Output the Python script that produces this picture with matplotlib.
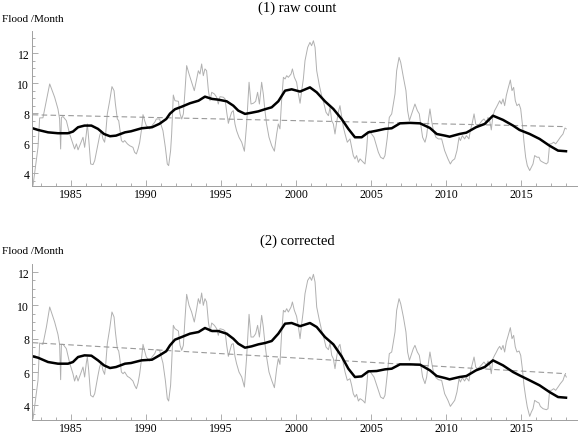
import matplotlib
matplotlib.use('Agg')
import matplotlib.pyplot as plt
import matplotlib.ticker as mticker

plt.rcParams['font.family'] = ['Liberation Serif', 'DejaVu Serif']

# ---- thin gray line (short smoothing) ----
years_gray = [
    1982.47, 1982.80, 1982.91, 1983.13, 1983.36, 1983.58, 1983.91, 1984.13, 1984.24, 1984.31,
    1984.36, 1984.47, 1984.69, 1984.91, 1985.13, 1985.24, 1985.36, 1985.47, 1985.64, 1985.80,
    1985.91, 1986.02, 1986.09, 1986.18, 1986.31, 1986.47, 1986.58, 1986.80, 1986.91, 1987.02,
    1987.13, 1987.24, 1987.31, 1987.42, 1987.58, 1987.73, 1987.87, 1987.96, 1988.09, 1988.18,
    1988.24, 1988.36, 1988.47, 1988.58, 1988.76, 1988.91, 1989.13, 1989.24, 1989.36, 1989.47,
    1989.58, 1989.69, 1989.80, 1989.91, 1990.02, 1990.24, 1990.40, 1990.58, 1990.69, 1990.91,
    1991.02, 1991.13, 1991.29, 1991.42, 1991.51, 1991.64,
    1991.71, 1991.82, 1991.93, 1992.16, 1992.27, 1992.38, 1992.49, 1992.60, 1992.71, 1992.87,
    1993.04, 1993.22, 1993.38, 1993.49, 1993.60, 1993.71, 1993.82, 1993.93, 1994.04, 1994.16,
    1994.27, 1994.38, 1994.56, 1994.71, 1994.82, 1994.93, 1995.16, 1995.27, 1995.38, 1995.49,
    1995.60, 1995.71, 1995.82, 1995.93, 1996.04, 1996.20, 1996.38, 1996.56, 1996.71, 1996.87,
    1997.00, 1997.16, 1997.31, 1997.44, 1997.56, 1997.71, 1997.82, 1997.93, 1998.04, 1998.20,
    1998.38, 1998.56, 1998.71, 1998.82, 1998.93, 1999.04, 1999.16, 1999.27, 1999.38, 1999.49,
    1999.67, 1999.76, 1999.89, 2000.04, 2000.16, 2000.27, 2000.38, 2000.49, 2000.60, 2000.78,
    2000.93, 2001.04, 2001.16, 2001.27, 2001.38, 2001.56, 2001.71, 2001.87, 2002.00, 2002.16,
    2002.27, 2002.38, 2002.49, 2002.60, 2002.71, 2002.82, 2002.93, 2003.04, 2003.16, 2003.27,
    2003.42, 2003.60, 2003.71, 2003.82, 2003.93, 2004.04, 2004.16, 2004.27, 2004.38, 2004.49,
    2004.60, 2004.71, 2004.78, 2004.89, 2005.04, 2005.20, 2005.33, 2005.49, 2005.64, 2005.82,
    2005.93, 2006.09, 2006.22, 2006.38, 2006.49, 2006.60, 2006.71, 2006.87, 2006.98, 2007.16,
    2007.33, 2007.44, 2007.56, 2007.71, 2007.82, 2007.93, 2008.09, 2008.22, 2008.31, 2008.44,
    2008.60, 2008.71, 2008.82, 2008.93, 2009.04, 2009.16, 2009.33, 2009.49, 2009.71,
    2009.91, 2010.13, 2010.29, 2010.42, 2010.58, 2010.73, 2010.87, 2010.96, 2011.09, 2011.24,
    2011.36, 2011.53, 2011.62, 2011.76, 2011.87, 2011.98, 2012.09, 2012.24, 2012.40, 2012.53,
    2012.69, 2012.80, 2012.91, 2013.02, 2013.13, 2013.24, 2013.36, 2013.47, 2013.58, 2013.69,
    2013.80, 2013.91, 2014.02, 2014.13, 2014.29, 2014.40, 2014.51, 2014.62, 2014.73, 2014.87,
    2014.98, 2015.09, 2015.20, 2015.31, 2015.42, 2015.58, 2015.69, 2015.80, 2015.91, 2016.07,
    2016.20, 2016.29, 2016.47, 2016.69, 2016.80, 2016.91, 2017.02, 2017.18, 2017.31, 2017.47,
    2017.62, 2017.80, 2017.93, 2018.02,
]

raw_gray = [
    3.2, 5.73, 7.69, 7.7, 8.84, 9.96, 9.07, 8.29, 7.62, 5.62,
    7.73, 7.78, 7.51, 6.62, 5.96, 5.62, 5.96, 5.56, 6.0, 6.4,
    5.73, 6.62, 7.29, 6.29, 4.62, 4.58, 4.84, 5.96, 6.51, 6.84,
    6.29, 6.07, 6.62, 7.96, 8.84, 9.78, 9.51, 8.62, 7.62, 7.51,
    7.07, 6.18, 6.07, 6.18, 5.96, 5.84, 5.73, 5.4, 5.29, 5.62,
    6.07, 6.84, 7.91, 7.51, 7.18, 6.96, 7.18, 7.4, 7.62, 7.62,
    7.18, 6.84, 5.73, 4.62, 4.51, 5.51,
    6.62, 9.22, 8.84, 8.8, 7.96, 7.62, 7.96, 9.51, 11.18, 10.62,
    10.07, 9.51, 10.29, 10.84, 10.62, 11.29, 10.51, 10.96, 10.84, 9.51,
    8.84, 9.4, 9.29, 9.07, 8.62, 9.11, 9.07, 8.96, 8.07, 7.33,
    7.73, 8.07, 8.18, 7.29, 6.84, 6.4, 6.07, 5.47, 7.29, 10.07,
    8.62, 8.67, 8.8, 9.4, 8.62, 10.07, 9.29, 8.18, 7.29, 6.4,
    5.84, 5.47, 6.62, 7.29, 6.96, 8.84, 10.4, 10.29, 10.51, 10.4,
    10.62, 10.96, 10.4, 10.07, 9.29, 8.67, 9.51, 10.29, 11.51, 12.4,
    12.73, 12.51, 12.84, 12.4, 10.84, 9.84, 9.18, 8.62, 8.07, 7.84,
    8.4, 7.51, 7.29, 6.62, 7.4, 8.07, 8.51, 7.84, 7.07, 6.62,
    6.07, 6.29, 5.73, 5.18, 4.96, 5.18, 4.73, 4.96, 4.84, 4.73,
    4.62, 5.62, 6.62, 6.84, 6.62, 6.4, 5.96, 5.4, 5.07, 4.96,
    5.18, 6.4, 7.73, 7.96, 8.62, 9.29, 10.84, 11.73, 11.4, 10.4,
    9.51, 8.18, 7.51, 7.96, 8.29, 8.62, 8.18, 7.96, 7.29, 6.4,
    6.07, 6.51, 7.51, 8.29, 7.51, 6.84, 6.4, 6.29, 6.29,
    5.51, 4.96, 4.62, 4.84, 4.96, 5.51, 6.4, 6.18, 6.51, 6.29,
    6.51, 6.29, 6.84, 7.4, 7.96, 7.29, 7.18, 7.29, 7.51, 7.62,
    7.4, 7.73, 7.51, 6.89, 7.84, 8.18, 8.4, 8.62, 8.84, 8.62,
    8.96, 8.51, 9.18, 9.62, 10.22, 9.51, 9.73, 8.84, 8.51, 8.62,
    8.29, 7.29, 6.07, 5.07, 4.51, 4.18, 4.4, 4.62, 5.18, 5.07,
    5.07, 4.84, 4.73, 4.62, 4.73, 5.96, 5.96, 6.07, 5.96, 6.18,
    6.4, 6.62, 7.02, 6.96,
]

corr_gray = [
    3.2, 5.5, 7.74, 7.66, 8.7, 9.9, 9.0, 8.26, 7.66, 5.54,
    7.66, 7.66, 7.4, 6.54, 5.9, 5.46, 5.8, 5.46, 5.9, 6.3,
    5.7, 6.54, 6.9, 6.1, 4.6, 4.5, 4.7, 5.8, 6.3, 6.6,
    6.1, 5.86, 6.4, 7.7, 8.6, 9.6, 9.3, 8.4, 7.4, 7.26,
    6.9, 6.0, 5.9, 6.0, 5.74, 5.66, 5.46, 5.2, 5.0, 5.34,
    5.9, 6.7, 7.66, 7.26, 6.9, 6.66, 6.9, 7.1, 7.34, 7.3,
    6.9, 6.54, 5.5, 4.4, 4.26, 5.2,
    6.5, 8.8, 8.6, 8.46, 7.6, 7.3, 7.6, 9.2, 10.66, 10.0,
    9.6, 9.0, 9.8, 10.4, 10.1, 10.74, 10.0, 10.4, 10.2, 9.0,
    8.4, 8.94, 8.8, 8.6, 8.2, 8.6, 8.54, 8.46, 7.6, 6.94,
    7.3, 7.66, 7.7, 6.94, 6.5, 6.0, 5.7, 5.1, 6.9, 9.46,
    8.1, 8.1, 8.3, 8.8, 8.1, 9.4, 8.7, 7.7, 6.9, 6.0,
    5.5, 5.06, 6.2, 6.8, 6.46, 8.3, 9.7, 9.6, 9.8, 9.6,
    9.9, 10.2, 9.7, 9.34, 8.7, 8.0, 8.9, 9.7, 10.7, 11.5,
    11.7, 11.5, 11.86, 11.4, 9.9, 9.1, 8.5, 8.0, 7.5, 7.34,
    7.74, 7.0, 6.8, 6.2, 6.9, 7.5, 7.66, 7.1, 6.5, 6.0,
    5.5, 5.6, 5.2, 4.7, 4.5, 4.66, 4.26, 4.4, 4.34, 4.26,
    4.14, 5.1, 5.9, 6.1, 5.9, 5.7, 5.34, 4.9, 4.5, 4.4,
    4.6, 5.9, 7.1, 7.2, 7.8, 8.4, 9.7, 10.4, 10.1, 9.3,
    8.4, 7.2, 6.7, 7.1, 7.4, 7.6, 7.2, 7.0, 6.5, 5.7,
    5.3, 5.7, 6.5, 7.2, 6.6, 6.0, 5.66, 5.54, 5.5,
    4.7, 4.3, 3.94, 4.1, 4.3, 4.8, 5.6, 5.4, 5.66, 5.46,
    5.66, 5.46, 6.0, 6.5, 6.9, 6.3, 6.2, 6.3, 6.46, 6.6,
    6.4, 6.66, 6.46, 5.9, 6.8, 7.0, 7.2, 7.4, 7.54, 7.34,
    7.6, 7.2, 7.8, 8.14, 8.66, 8.0, 8.2, 7.5, 7.2, 7.26,
    7.0, 6.2, 5.2, 4.5, 3.9, 3.34, 3.6, 3.8, 4.3, 4.2,
    4.14, 3.94, 3.8, 3.74, 3.8, 4.9, 4.9, 5.0, 4.9, 5.1,
    5.3, 5.5, 5.86, 5.7,
]

# ---- thick black line (long smoothing) ----
years_smooth = [
    1982.45, 1982.8, 1983.47, 1984.13, 1984.8, 1985.13, 1985.47, 1985.9, 1986.36, 1986.8,
    1987.2, 1987.6, 1988.0, 1988.6, 1989.0, 1989.7, 1990.4, 1990.9, 1991.35, 1991.6,
    1991.93, 1992.38, 1992.93, 1993.5, 1993.93, 1994.4, 1994.82, 1995.38, 1995.82, 1996.15,
    1996.6, 1997.04, 1997.49, 1997.93, 1998.38, 1998.82, 1999.27, 1999.71, 2000.27, 2000.93,
    2001.38, 2001.93, 2002.49, 2003.04, 2003.49, 2003.93, 2004.38, 2004.82, 2005.38, 2005.93,
    2006.38, 2006.93, 2007.6, 2008.27, 2008.93, 2009.38, 2009.93, 2010.24, 2010.9, 2011.36,
    2012.0, 2012.58, 2013.13, 2013.8, 2014.47, 2014.9, 2015.58, 2016.24, 2016.9, 2017.47,
    2018.0,
]

raw_smooth = [
    7.0, 6.89, 6.73, 6.67, 6.67, 6.78, 7.07, 7.18, 7.18, 6.96,
    6.62, 6.47, 6.51, 6.73, 6.8, 7.0, 7.07, 7.3, 7.62, 7.98,
    8.27, 8.44, 8.67, 8.84, 9.11, 8.96, 8.91, 8.8, 8.51, 8.18,
    7.96, 8.04, 8.13, 8.27, 8.4, 8.8, 9.51, 9.6, 9.45, 9.73,
    9.4, 8.8, 8.29, 7.62, 6.96, 6.4, 6.4, 6.73, 6.84, 6.96,
    7.0, 7.33, 7.36, 7.33, 7.02, 6.62, 6.51, 6.44, 6.62, 6.71,
    7.07, 7.29, 7.84, 7.56, 7.18, 6.89, 6.62, 6.29, 5.84, 5.51,
    5.47,
]

corr_smooth = [
    6.94, 6.86, 6.6, 6.5, 6.5, 6.6, 6.9, 7.0, 6.98, 6.7,
    6.4, 6.24, 6.3, 6.5, 6.54, 6.7, 6.74, 7.0, 7.25, 7.6,
    7.94, 8.1, 8.3, 8.4, 8.64, 8.46, 8.46, 8.3, 8.0, 7.7,
    7.46, 7.54, 7.66, 7.74, 7.86, 8.3, 8.9, 8.94, 8.75, 8.94,
    8.7, 8.1, 7.66, 6.94, 6.2, 5.7, 5.74, 6.04, 6.06, 6.16,
    6.2, 6.46, 6.46, 6.44, 6.1, 5.76, 5.64, 5.56, 5.7, 5.76,
    6.1, 6.3, 6.7, 6.4, 6.0, 5.8, 5.5, 5.2, 4.8, 4.5,
    4.46,
]

# ---- linear trend (dashed) ----
trend_years = [1982.45, 2018.0]
raw_trend = [7.9, 7.11]
corr_trend = [7.76, 5.9]

panels = [
    ('(1) raw count', raw_gray, raw_smooth, raw_trend, (3.17, 13.49),
     [32/578, 1 - 186.7/435, 546/578, 154.7/435], 8),
    ('(2) corrected', corr_gray, corr_smooth, corr_trend, (3.14, 12.48),
     [32/578, 1 - 420.7/435, 546/578, 155.7/435], 241),
]

fig = plt.figure(figsize=(5.78, 4.35), dpi=100)

for title, gray, smooth, trend, ylim, rect, title_y in panels:
    ax = fig.add_axes(rect)
    ax.plot(years_gray, gray, color='#b0b0b0', lw=0.7)
    ax.plot(trend_years, trend, color='#999999', lw=0.8, dashes=(5, 3))
    ax.plot(years_smooth, smooth, color='black', lw=1.8)
    ax.set_xlim(1982.4, 2018.8)
    ax.set_ylim(*ylim)
    for s in ['top', 'right']:
        ax.spines[s].set_visible(False)
    for s in ['left', 'bottom']:
        ax.spines[s].set_color('#a0a0a0')
        ax.spines[s].set_linewidth(0.7)
    ax.xaxis.set_major_locator(mticker.MultipleLocator(5))
    ax.xaxis.set_minor_locator(mticker.MultipleLocator(1))
    ax.yaxis.set_major_locator(mticker.FixedLocator([4, 6, 8, 10, 12]))
    ax.yaxis.set_minor_locator(mticker.MultipleLocator(0.5))
    ax.tick_params(which='both', direction='in', color='#a0a0a0', width=0.6,
                   labelsize=8.5)
    ax.tick_params(which='major', length=4)
    ax.tick_params(which='minor', length=2)
    ax.tick_params(axis='x', pad=1.5)
    ax.tick_params(axis='y', pad=2)
    fig.text(297/578, 1 - title_y/435, title, ha='center', va='center', fontsize=10.5)
    fig.text(2/578, 1 - (title_y + 11)/435, 'Flood /Month', ha='left', va='center', fontsize=8)

fig.savefig('out.png', dpi=100)
